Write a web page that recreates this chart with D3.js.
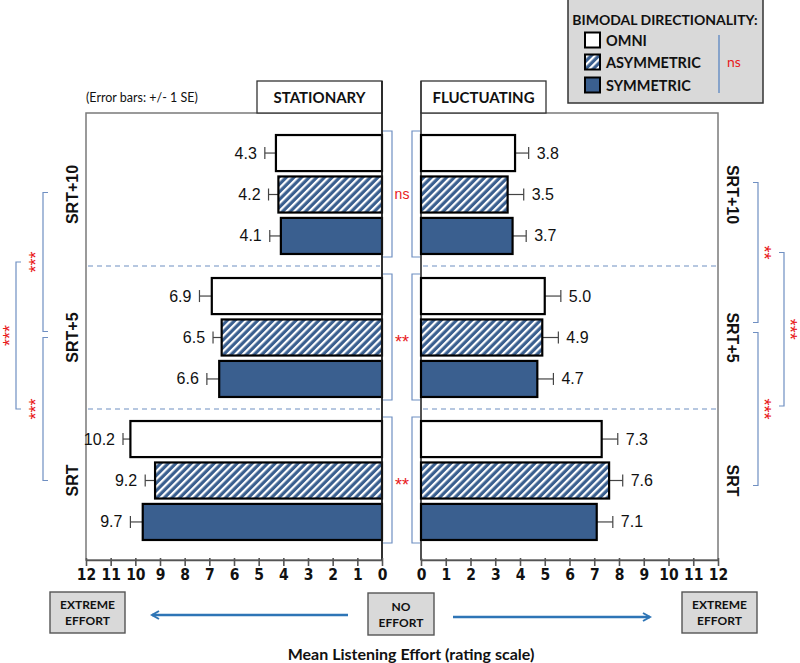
<!DOCTYPE html>
<html><head><meta charset="utf-8">
<script src="https://cdn.jsdelivr.net/npm/d3@7"></script>
<style>
body{margin:0;background:#fff;}
svg{display:block;}
</style></head>
<body>
<svg id="chart" width="800" height="663"></svg>
<script>
// ---------- DATA ----------
const conditions = ["SRT+10", "SRT+5", "SRT"];
const modes = ["OMNI", "ASYMMETRIC", "SYMMETRIC"];
const stationaryMeans = [[4.3, 4.2, 4.1], [6.9, 6.5, 6.6], [10.2, 9.2, 9.7]];
const stationarySE = [[0.45, 0.4, 0.45], [0.5, 0.35, 0.5], [0.3, 0.4, 0.5]];
const fluctuatingMeans = [[3.8, 3.5, 3.7], [5.0, 4.9, 4.7], [7.3, 7.6, 7.1]];
const fluctuatingSE = [[0.55, 0.65, 0.55], [0.65, 0.65, 0.65], [0.65, 0.55, 0.65]];
const tickValues = [0, 1, 2, 3, 4, 5, 6, 7, 8, 9, 10, 11, 12];
const modeSig = ["ns", "**", "**"];            // between directionality modes, per condition
const stationaryCondSig = ["***", "***", "***"]; // SRT+10 vs SRT+5, SRT+5 vs SRT, SRT+10 vs SRT
const fluctuatingCondSig = ["**", "***", "***"];
const legendSig = "ns";

// ---------- STYLE ----------
const BLUE = "#3A5F8F";
const BRACKET = "#6f8fc2";
const RED = "#e8191c";
const LABEL_FONT = "'Liberation Sans', Arial, sans-serif";
const CAL_FONT = "Lato, 'Open Sans', sans-serif";
const NARROW_FONT = "'Liberation Sans Narrow', 'Arial Narrow', 'DejaVu Sans Condensed', sans-serif";

const svg = d3.select("#chart");
const defs = svg.append("defs");
const pat = defs.append("pattern").attr("id", "hatch").attr("patternUnits", "userSpaceOnUse")
  .attr("width", 5.4).attr("height", 5.4).attr("patternTransform", "rotate(45)");
pat.append("rect").attr("width", 5.4).attr("height", 5.4).attr("fill", BLUE);
pat.append("rect").attr("x", 0).attr("width", 2.2).attr("height", 5.4).attr("fill", "#fff");

const fills = ["#ffffff", "url(#hatch)", BLUE];

// ---------- SCALES ----------
const leftX = d3.scaleLinear().domain([0, 12]).range([382, 86]);
const rightX = d3.scaleLinear().domain([0, 12]).range([421, 718]);
const y = d3.scaleBand().domain(conditions).range([123, 552]);
const yIn = d3.scaleBand().domain(modes).range([0, y.bandwidth()]).paddingInner(0.13).paddingOuter(0.29);
const frameTop = 113, frameBottom = 560;

// ---------- FRAMES ----------
function frame(x0, x1) {
  svg.append("rect").attr("x", x0).attr("y", frameTop).attr("width", x1 - x0).attr("height", frameBottom - frameTop)
    .attr("fill", "#fff").attr("stroke", "#7a7a7a").attr("stroke-width", 1.5);
}
frame(leftX(12), leftX(0));
frame(rightX(0), rightX(12));

// header boxes
function header(x0, x1, label) {
  svg.append("rect").attr("x", x0).attr("y", 81).attr("width", x1 - x0).attr("height", frameTop - 81)
    .attr("fill", "#fff").attr("stroke", "#333").attr("stroke-width", 1.3);
  svg.append("text").attr("x", (x0 + x1) / 2).attr("y", 97).attr("text-anchor", "middle")
    .attr("dominant-baseline", "central").attr("font-family", CAL_FONT).attr("font-weight", "bold")
    .attr("font-size", 15).attr("fill", "#111").text(label);
}
header(257, leftX(0), "STATIONARY");
header(rightX(0), 546, "FLUCTUATING");

svg.append("text").attr("x", 86).attr("y", 97).attr("dominant-baseline", "central")
  .attr("font-family", CAL_FONT).attr("font-size", 12.5).attr("fill", "#111").text("(Error bars: +/- 1 SE)");

// dashed separators
conditions.slice(1).forEach(c => {
  [[leftX(12) + 2, leftX(0) - 2], [rightX(0) + 2, rightX(12) - 2]].forEach(([a, b]) => {
    svg.append("line").attr("x1", a).attr("x2", b).attr("y1", y(c)).attr("y2", y(c))
      .attr("stroke", "#6f8fc2").attr("stroke-width", 1.1).attr("stroke-dasharray", "5,4");
  });
});

// zero lines
svg.append("line").attr("x1", leftX(0)).attr("x2", leftX(0)).attr("y1", 81).attr("y2", frameBottom).attr("stroke", "#222").attr("stroke-width", 1.4);
svg.append("line").attr("x1", rightX(0)).attr("x2", rightX(0)).attr("y1", 81).attr("y2", frameBottom).attr("stroke", "#333").attr("stroke-width", 1.4);

// ---------- BARS ----------
function panel(means, ses, x, dir) {
  conditions.forEach((c, ci) => {
    modes.forEach((m, mi) => {
      const v = means[ci][mi], se = ses[ci][mi];
      const y0 = y(c) + yIn(m), h = yIn.bandwidth(), yc = y0 + h / 2;
      const xa = Math.min(x(0), x(v)), xb = Math.max(x(0), x(v));
      // error bar
      svg.append("line").attr("x1", x(v)).attr("x2", x(v + se)).attr("y1", yc).attr("y2", yc)
        .attr("stroke", "#444").attr("stroke-width", 1.2);
      svg.append("line").attr("x1", x(v + se)).attr("x2", x(v + se)).attr("y1", yc - 6).attr("y2", yc + 6)
        .attr("stroke", "#444").attr("stroke-width", 1.2);
      svg.append("rect").attr("x", xa).attr("y", y0).attr("width", xb - xa).attr("height", h)
        .attr("fill", fills[mi]).attr("stroke", "#000").attr("stroke-width", 2.2);
      svg.append("text").attr("x", x(v + se) + dir * 8).attr("y", yc)
        .attr("text-anchor", dir < 0 ? "end" : "start").attr("dominant-baseline", "central")
        .attr("font-family", LABEL_FONT).attr("font-size", 16).attr("fill", "#111").text(v.toFixed(1));
    });
  });
}
panel(stationaryMeans, stationarySE, leftX, -1);
panel(fluctuatingMeans, fluctuatingSE, rightX, 1);

// redraw zero line over bar strokes
svg.append("line").attr("x1", leftX(0)).attr("x2", leftX(0)).attr("y1", 81).attr("y2", frameBottom).attr("stroke", "#222").attr("stroke-width", 1.2);

// ---------- AXES ----------
function axis(x) {
  const g = svg.append("g").attr("transform", `translate(0,${frameBottom})`)
    .call(d3.axisBottom(x).tickValues(tickValues).tickSize(6).tickSizeOuter(0).tickPadding(3));
  g.select(".domain").attr("stroke", "#555").attr("stroke-width", 1.6);
  g.selectAll(".tick line").attr("stroke", "#555").attr("stroke-width", 1.6).attr("y1", -2);
  g.selectAll(".tick text").attr("font-family", NARROW_FONT).attr("font-weight", "bold")
    .attr("font-size", 15.5).attr("fill", "#111");
}
axis(leftX);
axis(rightX);

// ---------- MIDDLE BRACKETS ----------
conditions.forEach((c, ci) => {
  const top = y(c) + yIn(modes[0]) - 4, bot = y(c) + yIn(modes[2]) + yIn.bandwidth() + 3;
  svg.append("path").attr("d", `M383,${top}H392V${bot}H383`).attr("fill", "none").attr("stroke", BRACKET).attr("stroke-width", 1.2);
  svg.append("path").attr("d", `M420,${top}H412V${bot}H420`).attr("fill", "none").attr("stroke", BRACKET).attr("stroke-width", 1.2);
  const isNs = modeSig[ci] === "ns";
  svg.append("text").attr("x", 402).attr("y", (top + bot) / 2 + (isNs ? 0 : 5)).attr("text-anchor", "middle")
    .attr("dominant-baseline", "central").attr("font-family", LABEL_FONT).attr("font-size", isNs ? 14 : 18).attr("fill", RED)
    .text(modeSig[ci]);
});

// ---------- CONDITION LABELS ----------
conditions.forEach(c => {
  const yc = y(c) + y.bandwidth() / 2;
  svg.append("text").attr("transform", `translate(72,${yc}) rotate(-90)`).attr("text-anchor", "middle")
    .attr("dominant-baseline", "central").attr("font-family", LABEL_FONT).attr("font-weight", "bold")
    .attr("font-size", 16).attr("fill", "#111").text(c);
  svg.append("text").attr("transform", `translate(732,${yc}) rotate(90)`).attr("text-anchor", "middle")
    .attr("dominant-baseline", "central").attr("font-family", LABEL_FONT).attr("font-weight", "bold")
    .attr("font-size", 16).attr("fill", "#111").text(c);
});

// ---------- CONDITION COMPARISON BRACKETS ----------
function bracket(xv, xt, y1, y2, label, xl, rot) {
  svg.append("path").attr("d", `M${xt},${y1}H${xv}V${y2}H${xt}`).attr("fill", "none").attr("stroke", BRACKET).attr("stroke-width", 1.2);
  svg.append("text").attr("transform", `translate(${xl},${(y1 + y2) / 2}) rotate(${rot})`).attr("text-anchor", "middle")
    .attr("dominant-baseline", "central").attr("font-family", LABEL_FONT).attr("font-size", 18)
    .attr("fill", RED).text(label);
}
const cMid = c => y(c) + y.bandwidth() / 2;
// left (stationary)
const L1 = [cMid(conditions[0]) - 2, cMid(conditions[1]) - 6];
const L2 = [cMid(conditions[1]), cMid(conditions[2])];
bracket(43, 48, L1[0], L1[1], stationaryCondSig[0], 36, -90);
bracket(43, 48, L2[0], L2[1], stationaryCondSig[1], 36, -90);
bracket(16, 21, (L1[0] + L1[1]) / 2, (L2[0] + L2[1]) / 2, stationaryCondSig[2], 10, -90);
// right (fluctuating)
const R1 = [cMid(conditions[0]) - 12, cMid(conditions[1]) - 15];
const R2 = [cMid(conditions[1]) - 5, cMid(conditions[2]) + 5];
bracket(758, 753, R1[0], R1[1], fluctuatingCondSig[0], 764, 90);
bracket(758, 753, R2[0], R2[1], fluctuatingCondSig[1], 764, 90);
bracket(784, 779, (R1[0] + R1[1]) / 2, (R2[0] + R2[1]) / 2 - 3, fluctuatingCondSig[2], 790, 90);

// ---------- LEGEND ----------
svg.append("rect").attr("x", 568).attr("y", -1).attr("width", 195).attr("height", 104)
  .attr("fill", "#d9d9d9").attr("stroke", "#333").attr("stroke-width", 1.5);
svg.append("text").attr("x", 665).attr("y", 19).attr("text-anchor", "middle").attr("dominant-baseline", "central")
  .attr("font-family", CAL_FONT).attr("font-weight", "bold").attr("font-size", 14).attr("fill", "#111")
  .text("BIMODAL DIRECTIONALITY:");
const legY = [40, 62, 85];
modes.forEach((m, i) => {
  svg.append("rect").attr("x", 585).attr("y", legY[i] - 7.5).attr("width", 15).attr("height", 15)
    .attr("fill", fills[i]).attr("stroke", "#000").attr("stroke-width", 2);
  svg.append("text").attr("x", 606).attr("y", legY[i]).attr("dominant-baseline", "central")
    .attr("font-family", CAL_FONT).attr("font-weight", "bold").attr("font-size", 14.5).attr("fill", "#111").text(m);
});
svg.append("line").attr("x1", 719).attr("x2", 719).attr("y1", 35).attr("y2", 93).attr("stroke", "#4f7fc0").attr("stroke-width", 1.2);
svg.append("text").attr("x", 727).attr("y", 61).attr("dominant-baseline", "central")
  .attr("font-family", CAL_FONT).attr("font-size", 14).attr("fill", RED).text(legendSig);

// ---------- BOTTOM ANNOTATION ----------
function box(x0, x1, y0, y1, lines) {
  svg.append("rect").attr("x", x0).attr("y", y0).attr("width", x1 - x0).attr("height", y1 - y0)
    .attr("fill", "#d9d9d9").attr("stroke", "#555").attr("stroke-width", 1.4);
  lines.forEach((t, i) => {
    svg.append("text").attr("x", (x0 + x1) / 2).attr("y", (y0 + y1) / 2 + (i - 0.5) * 16).attr("text-anchor", "middle")
      .attr("dominant-baseline", "central").attr("font-family", CAL_FONT).attr("font-weight", "bold")
      .attr("font-size", 12).attr("fill", "#111").text(t);
  });
}
box(50, 125, 592, 633, ["EXTREME", "EFFORT"]);
box(368, 434, 593, 635, ["NO", "EFFORT"]);
box(682, 757, 592, 633, ["EXTREME", "EFFORT"]);

defs.append("marker").attr("id", "arr").attr("viewBox", "0 0 10 10").attr("refX", 8).attr("refY", 5)
  .attr("markerWidth", 4).attr("markerHeight", 4).attr("orient", "auto-start-reverse")
  .append("path").attr("d", "M1,1L8,5L1,9").attr("fill", "none").attr("stroke", "#2e75b6").attr("stroke-width", 2);
svg.append("line").attr("x1", 348).attr("x2", 152).attr("y1", 615).attr("y2", 615)
  .attr("stroke", "#2e75b6").attr("stroke-width", 2.5).attr("marker-end", "url(#arr)");
svg.append("line").attr("x1", 453).attr("x2", 650).attr("y1", 617).attr("y2", 617)
  .attr("stroke", "#2e75b6").attr("stroke-width", 2.5).attr("marker-end", "url(#arr)");

svg.append("text").attr("x", 411).attr("y", 653).attr("text-anchor", "middle").attr("dominant-baseline", "central")
  .attr("font-family", CAL_FONT).attr("font-weight", "bold").attr("font-size", 16).attr("fill", "#111")
  .text("Mean Listening Effort (rating scale)");
</script>
</body></html>
